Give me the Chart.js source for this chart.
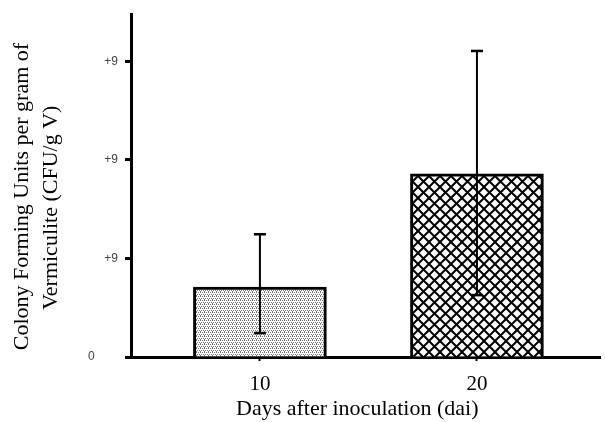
<!DOCTYPE html>
<html><head><meta charset="utf-8">
<script src="https://cdn.jsdelivr.net/npm/chart.js@4/dist/chart.umd.min.js"></script>
<style>html,body{margin:0;padding:0;background:#fff;}#wrap{width:605px;height:422px;}</style>
</head><body><div id="wrap"><canvas id="c" width="605" height="422"></canvas></div>
<script>
const categories = [10, 20];
const values = [0.71e9, 1.86e9];
const errHigh = [1.246e9, 3.107e9];
const errLow = [0.243e9, 0.628e9];
const yTickValues = [0, 1e9, 2e9, 3e9];
const yTickLabels = ['0       ', '+9', '+9', '+9'];
const xTickLabels = ['10', '20'];

function stipple() {
  const c = document.createElement('canvas'); c.width = 4; c.height = 4;
  const g = c.getContext('2d');
  g.fillStyle = '#fff'; g.fillRect(0,0,4,4);
  g.fillStyle = '#777';
  [[0,0],[2,0],[1,2],[3,2],[0,3]].forEach(p=>g.fillRect(p[0],p[1],1,1));
  return g.createPattern(c,'repeat');
}
function hatch() {
  const s = 11;
  const c = document.createElement('canvas'); c.width = s; c.height = s;
  const g = c.getContext('2d');
  g.fillStyle = '#fff'; g.fillRect(0,0,s,s);
  g.strokeStyle = '#000'; g.lineWidth = 2;
  for (const o of [-s,0,s]) {
    g.beginPath(); g.moveTo(o-1,-1); g.lineTo(o+s+1,s+1); g.stroke();
    g.beginPath(); g.moveTo(o+s+1,-1); g.lineTo(o-1,s+1); g.stroke();
  }
  return g.createPattern(c,'repeat');
}

const errorBars = {
  id: 'errorBars',
  afterDatasetsDraw(chart) {
    const meta = chart.getDatasetMeta(0);
    const ys = chart.scales.y;
    const ctx = chart.ctx;
    ctx.save();
    ctx.strokeStyle = '#000';
    meta.data.forEach((el, i) => {
      const x = el.x;
      const top = ys.getPixelForValue(errHigh[i]);
      const bot = ys.getPixelForValue(errLow[i]);
      ctx.lineWidth = 2;
      ctx.beginPath(); ctx.moveTo(x, top); ctx.lineTo(x, bot); ctx.stroke();
      ctx.lineWidth = 2.5;
      ctx.beginPath(); ctx.moveTo(x-6, top); ctx.lineTo(x+6, top); ctx.stroke();
      ctx.beginPath(); ctx.moveTo(x-6, bot); ctx.lineTo(x+6, bot); ctx.stroke();
    });
    ctx.restore();
  }
};

new Chart(document.getElementById('c'), {
  type: 'bar',
  data: {
    datasets: [{
      data: categories.map((c, i) => ({x: c, y: values[i]})),
      backgroundColor: [stipple(), hatch()],
      borderColor: '#000',
      borderWidth: 3,
      borderSkipped: 'bottom',
      barThickness: 133
    }]
  },
  options: {
    responsive: false,
    animation: false,
    layout: {padding: {top: 12, right: 5, left: 0, bottom: 0}},
    plugins: {legend: {display: false}, tooltip: {enabled: false}},
    scales: {
      x: {
        type: 'linear',
        offset: false,
        min: 4.06, max: 25.67,
        afterBuildTicks(s) { s.ticks = categories.map(v => ({value: v})); },
        afterFit(s) { s.height = 65; },
        ticks: {
          callback(v) { const i = categories.indexOf(v); return i >= 0 ? xTickLabels[i] : ''; },
          font: {family: 'Liberation Serif', size: 21}, color: '#000', padding: 11, maxRotation: 0
        },
        grid: {display: true, offset: false, drawOnChartArea: false, tickLength: 4, tickWidth: 2, tickColor: '#000'},
        border: {color: '#000', width: 3},
        title: {display: true, text: 'Days after inoculation (dai)   ', font: {family: 'Liberation Serif', size: 22}, color: '#000', padding: {top: 0, bottom: 0}}
      },
      y: {
        min: 0, max: 3.48e9,
        afterBuildTicks(s) { s.ticks = yTickValues.map(v => ({value: v})); },
        afterFit(s) { s.width = 131; },
        ticks: {
          callback(v) { const i = yTickValues.indexOf(v); return i >= 0 ? yTickLabels[i] : ''; },
          font: {family: 'Liberation Sans', size: 12}, color: '#444', padding: 7
        },
        grid: {display: true, drawOnChartArea: false, tickLength: 6, tickWidth: 3, tickColor: '#000'},
        border: {color: '#000', width: 3},
        title: {display: true, text: ['Colony Forming Units per gram of    ', 'Vermiculite (CFU/g V)        '], font: {family: 'Liberation Serif', size: 22, lineHeight: 1.3}, color: '#000', padding: {top: 8, bottom: 0}}
      }
    }
  },
  plugins: [errorBars]
});
</script></body></html>
